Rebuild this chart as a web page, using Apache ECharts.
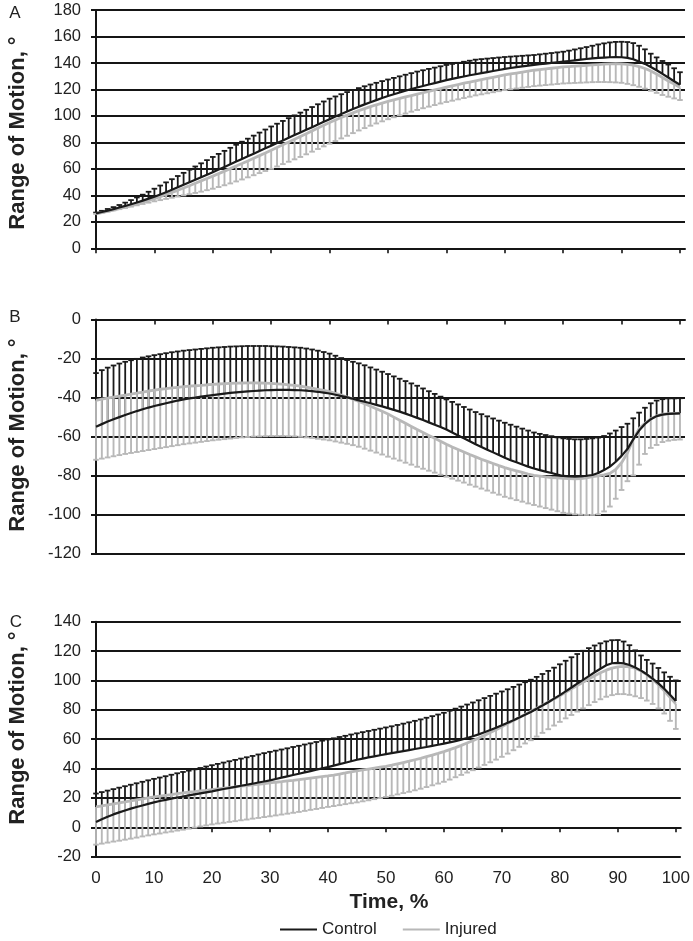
<!DOCTYPE html>
<html><head><meta charset="utf-8">
<script src="https://cdn.jsdelivr.net/npm/echarts@6/dist/echarts.min.js"></script>
<style>html,body{margin:0;padding:0;background:#fff}#c{width:693px;height:941px}</style>
</head><body><div id="c"></div>
<script>
const time = [0,1,2,3,4,5,6,7,8,9,10,11,12,13,14,15,16,17,18,19,20,21,22,23,24,25,26,27,28,29,30,31,32,33,34,35,36,37,38,39,40,41,42,43,44,45,46,47,48,49,50,51,52,53,54,55,56,57,58,59,60,61,62,63,64,65,66,67,68,69,70,71,72,73,74,75,76,77,78,79,80,81,82,83,84,85,86,87,88,89,90,91,92,93,94,95,96,97,98,99,100];
const xTicks = [0,10,20,30,40,50,60,70,80,90,100];
const yTicksA = [0,20,40,60,80,100,120,140,160,180];
const yTicksB = [-120,-100,-80,-60,-40,-20,0];
const yTicksC = [-20,0,20,40,60,80,100,120,140];

// Panel A
const A_controlMean = [26.4,27.4,28.5,29.6,30.8,32,33.3,34.6,36,37.5,
39,40.7,42.4,44.2,46.1,48,49.9,51.8,53.7,55.6,
57.5,59.5,61.5,63.5,65.5,67.5,69.5,71.5,73.5,75.5,
77.5,79.5,81.5,83.5,85.5,87.5,89.5,91.5,93.5,95.5,
97.5,99.5,101.4,103.3,105.2,107,108.7,110.3,111.9,113.5,
115,116.4,117.7,119,120.3,121.5,122.6,123.7,124.8,125.9,
127,128,128.9,129.8,130.7,131.5,132.3,133.1,133.9,134.7,
135.5,136.2,136.8,137.4,138,138.5,139,139.5,140,140.5,
141,141.5,142,142.5,143,143.5,143.8,144.1,144.3,144.4,
144.3,143.8,142.8,141,139.3,137,134.5,131.8,129,126.2,
123.5];
const A_controlUpper = [27,28.3,29.7,31.1,32.7,34.5,36.4,38.4,40.5,42.7,
45,47.4,49.8,52.2,54.6,57,59.4,61.8,64.2,66.6,
69,71.3,73.6,75.9,78.2,80.5,82.8,85.1,87.4,89.7,
92,94.1,96.2,98.3,100.4,102.5,104.6,106.7,108.8,110.9,
113,114.7,116.4,118,119.6,121,122.4,123.7,125,126.3,
127.5,128.7,129.9,131.1,132.3,133.5,134.5,135.5,136.5,137.5,
138.5,139.3,140.1,140.9,141.7,142.5,142.9,143.3,143.7,144.1,
144.5,144.8,145.1,145.4,145.7,146,146.5,147,147.5,148,
148.5,149.3,150.2,151.1,152,153,154,154.8,155.5,155.9,
156,155.8,155,153,150.3,147,144.2,141.5,138.8,136,
133];
const A_injuredMean = [26,26.9,27.9,28.9,29.9,31,32.2,33.4,34.7,36.1,
37.5,39,40.6,42.2,43.8,45.5,47.3,49.1,50.9,52.7,
54.5,56.4,58.3,60.2,62.1,64,66,68,70,72,
74,76.1,78.2,80.3,82.4,84.5,86.6,88.7,90.8,92.9,
95,96.9,98.8,100.6,102.3,104,105.5,107,108.4,109.7,
111,112.1,113.2,114.3,115.4,116.5,117.5,118.5,119.6,120.7,
121.7,122.7,123.7,124.7,125.6,126.5,127.4,128.3,129.2,130.1,
131,131.7,132.4,133.1,133.8,134.5,135,135.5,136,136.5,
137,137.3,137.6,137.9,138.2,138.5,138.8,139.1,139.3,139.4,
139.3,139,138.3,137.3,135.8,134,131.6,129,126.4,124,
121.5];
const A_injuredLower = [26,26.9,27.8,28.7,29.6,30.5,31.5,32.5,33.5,34.5,
35.5,36.4,37.3,38.2,39.1,40,40.9,41.8,42.8,43.9,
45,46.3,47.6,49,50.5,52,53.6,55.2,56.8,58.4,
60,61.8,63.6,65.4,67.2,69,71,73,75,77,
79,81,83,85,87,89,90.8,92.6,94.3,95.9,
97.5,99,100.4,101.8,103.2,104.5,105.8,107,108.2,109.4,
110.5,111.5,112.5,113.5,114.5,115.5,116.3,117.1,117.9,118.7,
119.5,120.1,120.7,121.3,121.9,122.5,122.9,123.3,123.7,124.1,
124.5,124.7,124.9,125.1,125.3,125.5,125.6,125.6,125.5,125.3,
125,124.2,123.2,122,120.6,119,117.4,115.8,114.5,113.2,
112];

// Panel B
const B_controlMean = [-55,-53.7,-52.4,-51.2,-50.1,-49,-48,-47,-46.1,-45.2,
-44.4,-43.7,-43,-42.3,-41.6,-41,-40.5,-40.1,-39.6,-39.2,
-38.8,-38.4,-38,-37.7,-37.4,-37.1,-36.9,-36.7,-36.5,-36.3,
-36.2,-36.1,-36.1,-36.1,-36.2,-36.3,-36.5,-36.8,-37.1,-37.5,
-38,-38.6,-39.3,-40,-40.7,-41.5,-42.2,-43,-43.8,-44.6,
-45.5,-46.4,-47.3,-48.3,-49.4,-50.5,-51.6,-52.8,-54,-55.2,
-56.5,-58,-59.5,-61,-62.5,-64,-65.4,-66.8,-68.2,-69.6,
-71,-72.2,-73.3,-74.4,-75.5,-76.5,-77.3,-78.1,-78.8,-79.6,
-80.3,-80.5,-80.6,-80.5,-80.2,-79.8,-78.8,-77.3,-75.5,-73,
-70,-66.5,-61.5,-57,-53.6,-51.2,-49.6,-48.8,-48.4,-48.3,
-48.2];
const B_controlUpper = [-27.5,-26,-24.7,-23.6,-22.6,-21.7,-20.9,-20.2,-19.5,-18.9,
-18.3,-17.8,-17.3,-16.8,-16.4,-16,-15.7,-15.4,-15.1,-14.8,
-14.5,-14.3,-14.1,-13.9,-13.8,-13.7,-13.6,-13.6,-13.6,-13.6,
-13.7,-13.8,-13.9,-14.1,-14.3,-14.5,-14.9,-15.4,-16,-16.7,
-17.5,-18.6,-19.8,-20.8,-21.7,-22.5,-23.5,-24.6,-25.7,-26.8,
-28,-29.2,-30.4,-31.6,-32.8,-34,-35.4,-36.8,-38.2,-39.6,
-41,-42.3,-43.6,-44.9,-46.2,-47.5,-48.6,-49.7,-50.8,-51.9,
-53,-54,-55,-56,-57,-58,-58.7,-59.3,-59.9,-60.5,
-61,-61.3,-61.5,-61.5,-61.3,-61,-60.6,-59.8,-58.5,-57,
-55.2,-53.5,-50.7,-47.8,-45.3,-43,-41.6,-40.9,-40.5,-40.5,
-40.4];
const B_injuredMean = [-41.5,-40.9,-40.4,-39.8,-39.3,-38.8,-38.3,-37.8,-37.3,-36.7,
-36.2,-35.8,-35.5,-35.1,-34.8,-34.5,-34.2,-34,-33.8,-33.5,
-33.3,-33.1,-32.9,-32.8,-32.7,-32.6,-32.5,-32.5,-32.6,-32.7,
-32.8,-33,-33.2,-33.5,-33.8,-34.2,-34.7,-35.2,-35.8,-36.4,
-37,-37.9,-38.8,-39.8,-40.9,-42,-43.2,-44.5,-45.8,-47.1,
-48.5,-50.1,-51.7,-53.3,-54.9,-56.5,-58,-59.5,-61,-62.5,
-64,-65.4,-66.7,-68,-69.3,-70.5,-71.7,-72.8,-73.9,-75,
-76,-76.9,-77.7,-78.5,-79.3,-80,-80.4,-80.8,-81.1,-81.3,
-81.5,-81.7,-81.8,-81.7,-81.3,-80.7,-80.3,-79.8,-79,-77,
-73.5,-68.5,-61.5,-56,-53.3,-51,-49.5,-48.6,-48.3,-48.2,
-48.1];
const B_injuredLower = [-72,-71.4,-70.8,-70.2,-69.6,-69,-68.5,-68,-67.5,-67,
-66.5,-66,-65.5,-65,-64.5,-64,-63.6,-63.2,-62.8,-62.4,
-62,-61.7,-61.4,-61.1,-60.8,-60.5,-60.3,-60.1,-60,-59.9,
-59.8,-59.8,-59.8,-59.9,-60,-60.2,-60.5,-60.8,-61.2,-61.6,
-62,-62.6,-63.2,-63.8,-64.5,-65.3,-66.3,-67.3,-68.3,-69.3,
-70.4,-71.4,-72.4,-73.5,-74.5,-75.6,-76.6,-77.6,-78.6,-79.7,
-80.7,-81.7,-82.7,-83.7,-84.8,-85.8,-86.8,-87.8,-88.9,-89.9,
-91,-91.8,-92.7,-93.5,-94.4,-95.2,-96,-96.8,-97.6,-98.4,
-99.2,-99.6,-100,-100.2,-100.3,-100.3,-100,-98.5,-96,-92,
-87.5,-83,-80,-74.5,-69,-65.9,-64.4,-62.9,-62.2,-61.8,
-61.6];

// Panel C
const C_controlMean = [3.6,5.5,7.2,8.8,10.2,11.5,12.7,13.8,14.9,16,
17,17.9,18.7,19.5,20.3,21,21.7,22.4,23.1,23.8,
24.5,25.3,26.1,26.8,27.5,28.3,29,29.7,30.5,31.2,
32,32.9,33.8,34.7,35.6,36.5,37.4,38.3,39.2,40.1,
41,42,43,44,45,46,46.8,47.6,48.3,49.1,
49.8,50.5,51.2,51.9,52.6,53.3,54,54.7,55.5,56.2,
57,57.8,58.7,59.7,60.8,62,63.3,64.7,66.2,67.8,
69.5,71.2,72.9,74.7,76.6,78.5,80.7,82.9,85.2,87.6,
90,92.6,95.2,97.8,100.4,103,105.6,108,110.3,111.7,
112,111.6,110.5,108.8,106.7,104.2,101.3,98,94.3,90.3,
86];
const C_controlUpper = [23,24,25,26,27,28,29,30,31,32,
33,33.9,34.8,35.8,36.8,37.7,38.6,39.5,40.4,41.4,
42.3,43.2,44.1,45,45.9,46.8,47.7,48.6,49.6,50.5,
51.4,52.2,53,53.8,54.7,55.5,56.4,57.2,58.1,59,
59.8,60.6,61.5,62.3,63.2,64,64.8,65.6,66.4,67.2,
68,68.8,69.7,70.6,71.5,72.5,73.5,74.6,75.7,76.8,
78,79.4,80.8,82.2,83.6,85,86.5,88,89.5,91,
92.5,94,95.6,97.2,98.8,100.5,102.4,104.4,106.5,108.7,
111,113.4,115.8,118,120.2,122,123.8,125.3,126.6,127.4,
127.5,126.5,124,120.5,117,114,111.5,108.5,105.5,102.5,
100];
const C_injuredMean = [13.9,14.6,15.3,16,16.6,17.3,18,18.7,19.4,20,
20.7,21.3,21.8,22.3,22.9,23.4,23.9,24.3,24.8,25.2,
25.7,26.2,26.6,27.1,27.5,28,28.4,28.9,29.3,29.8,
30.2,30.7,31.1,31.6,32,32.5,33,33.5,34,34.5,
35,35.6,36.3,37,37.8,38.5,39.1,39.7,40.3,40.9,
41.5,42.3,43.2,44.1,45,46,47,48.1,49.2,50.3,
51.5,52.9,54.3,55.8,57.4,59,60.8,62.6,64.5,66.5,
68.5,70.6,72.7,74.8,76.9,79,81.1,83.2,85.3,87.4,
89.5,91.9,94.3,96.6,98.8,101,103.2,105.2,107,108.4,
109.3,109.6,109.3,108.3,106.4,104,100.8,97,93,88.5,
84];
const C_injuredLower = [-11.8,-11.1,-10.4,-9.7,-9.1,-8.4,-7.7,-7,-6.2,-5.5,
-4.8,-4.2,-3.5,-2.9,-2.2,-1.6,-0.9,-0.2,0.6,1.3,
2,2.6,3.1,3.7,4.2,4.8,5.3,5.9,6.4,7,
7.5,8.1,8.7,9.3,9.9,10.5,11.2,11.9,12.5,13.2,
13.9,14.5,15.1,15.8,16.4,17,17.7,18.4,19.2,19.9,
20.7,21.5,22.4,23.3,24.2,25.2,26.3,27.4,28.6,29.8,
31,32.5,34.1,35.7,37.3,38.9,40.7,42.5,44.3,46.1,
48,50.2,52.5,54.8,57.1,59.3,61.8,64.3,66.8,69.3,
71.8,74.2,76.5,78.8,81,83.2,85.3,87.2,88.9,90,
90.7,90.7,90.2,89.2,88,86.3,84,81,77.5,72.5,
67];

const FONT = "'Liberation Sans', Arial, Helvetica, sans-serif";
const TXT = '#222';
const AX = '#151515';
const BLACK = '#1a1a1a';
const GRAY = '#b8b8b8';
const X_END = 100.86; // plot area runs a little past the last tick, as in the original

const panels = [
  {ticks: yTicksA, cm: A_controlMean, cu: A_controlUpper, im: A_injuredMean, il: A_injuredLower},
  {ticks: yTicksB, cm: B_controlMean, cu: B_controlUpper, im: B_injuredMean, il: B_injuredLower},
  {ticks: yTicksC, cm: C_controlMean, cu: C_controlUpper, im: C_injuredMean, il: C_injuredLower}
];
const gridBoxes = [
  {left: 96, top: 10, width: 589, height: 238.3},
  {left: 96, top: 319.5, width: 589, height: 233.8},
  {left: 96, top: 621.7, width: 589, height: 235}
];

function errBar(color, lw) {
  return function (params, api) {
    const x = api.value(0), m = api.value(1), b = api.value(2);
    const p1 = api.coord([x, m]), p2 = api.coord([x, b]);
    return {
      type: 'group',
      children: [
        {type: 'line', shape: {x1: p1[0], y1: p1[1], x2: p2[0], y2: p2[1]}, style: {stroke: color, lineWidth: lw}},
        {type: 'line', shape: {x1: p2[0] - 2.8, y1: p2[1], x2: p2[0] + 2.8, y2: p2[1]}, style: {stroke: color, lineWidth: lw}}
      ]
    };
  };
}

const xAxes = [], yAxes = [], series = [];
panels.forEach((p, i) => {
  xAxes.push({
    type: 'value', gridIndex: i, position: 'bottom',
    min: xTicks[0], max: X_END, interval: xTicks[1] - xTicks[0],
    axisLine: {show: true, onZero: true, lineStyle: {color: AX, width: 2}},
    axisTick: {show: true, length: 5, inside: false, customValues: xTicks, lineStyle: {color: AX, width: 1.6}},
    axisLabel: {show: false},
    splitLine: {show: false}
  });
  yAxes.push({
    type: 'value', gridIndex: i,
    min: p.ticks[0], max: p.ticks[p.ticks.length - 1], interval: p.ticks[1] - p.ticks[0],
    axisLine: {show: true, lineStyle: {color: AX, width: 2}},
    axisTick: {show: true, length: 5, lineStyle: {color: AX, width: 2}},
    axisLabel: {fontSize: 16.5, color: TXT, fontFamily: FONT, margin: 15},
    splitLine: {show: true, lineStyle: {color: AX, width: 2}}
  });
  const cBars = time.map((t, k) => [t, p.cm[k], p.cu[k]]);
  const iBars = time.map((t, k) => [t, p.im[k], p.il[k]]);
  series.push({type: 'custom', xAxisIndex: i, yAxisIndex: i, renderItem: errBar(BLACK, 1.8), data: cBars, encode: {x: 0, y: [1, 2]}, silent: true, z: 2});
  series.push({type: 'custom', xAxisIndex: i, yAxisIndex: i, renderItem: errBar(GRAY, 1.9), data: iBars, encode: {x: 0, y: [1, 2]}, silent: true, z: 3});
  series.push({type: 'line', name: 'Injured', xAxisIndex: i, yAxisIndex: i, data: time.map((t, k) => [t, p.im[k]]),
    symbol: 'none', color: GRAY, lineStyle: {color: GRAY, width: 2.8}, itemStyle: {color: GRAY}, z: 4});
  series.push({type: 'line', name: 'Control', xAxisIndex: i, yAxisIndex: i, data: time.map((t, k) => [t, p.cm[k]]),
    symbol: 'none', color: BLACK, lineStyle: {color: BLACK, width: 2.2}, itemStyle: {color: BLACK}, z: 5});
});
// bottom labels for panel C
xAxes.push({
  type: 'value', gridIndex: 2, position: 'bottom',
  min: xTicks[0], max: X_END, interval: xTicks[1] - xTicks[0],
  axisLine: {show: false, onZero: false}, axisTick: {show: false}, splitLine: {show: false},
  axisLabel: {show: true, customValues: xTicks, fontSize: 17, color: TXT, fontFamily: FONT, margin: 13}
});

const yTitle = 'Range of Motion, °';
const chart = echarts.init(document.getElementById('c'), null, {renderer: 'canvas'});
chart.setOption({
  animation: false,
  backgroundColor: '#fff',
  grid: gridBoxes,
  xAxis: xAxes,
  yAxis: yAxes,
  series: series,
  legend: {
    data: [{name: 'Control'}, {name: 'Injured'}],
    left: 280, top: 921, padding: 0,
    icon: 'rect', itemWidth: 37, itemHeight: 2, itemGap: 26,
    textStyle: {fontSize: 17, color: TXT, fontFamily: FONT},
    selectedMode: false
  },
  graphic: [
    {type: 'text', x: 15, y: 13, style: {text: 'A', font: '17px ' + FONT, fill: TXT, textAlign: 'center', textVerticalAlign: 'middle'}},
    {type: 'text', x: 15, y: 317, style: {text: 'B', font: '17px ' + FONT, fill: TXT, textAlign: 'center', textVerticalAlign: 'middle'}},
    {type: 'text', x: 16, y: 622, style: {text: 'C', font: '17px ' + FONT, fill: TXT, textAlign: 'center', textVerticalAlign: 'middle'}},
    {type: 'text', x: 18, y: 133, rotation: Math.PI / 2, style: {text: yTitle, font: 'bold 22px ' + FONT, fill: TXT, textAlign: 'center', textVerticalAlign: 'middle'}},
    {type: 'text', x: 18, y: 435, rotation: Math.PI / 2, style: {text: yTitle, font: 'bold 22px ' + FONT, fill: TXT, textAlign: 'center', textVerticalAlign: 'middle'}},
    {type: 'text', x: 18, y: 728, rotation: Math.PI / 2, style: {text: yTitle, font: 'bold 22px ' + FONT, fill: TXT, textAlign: 'center', textVerticalAlign: 'middle'}},
    {type: 'text', x: 389, y: 902, style: {text: 'Time, %', font: 'bold 21px ' + FONT, fill: TXT, textAlign: 'center', textVerticalAlign: 'middle'}}
  ]
});
</script>
</body></html>
